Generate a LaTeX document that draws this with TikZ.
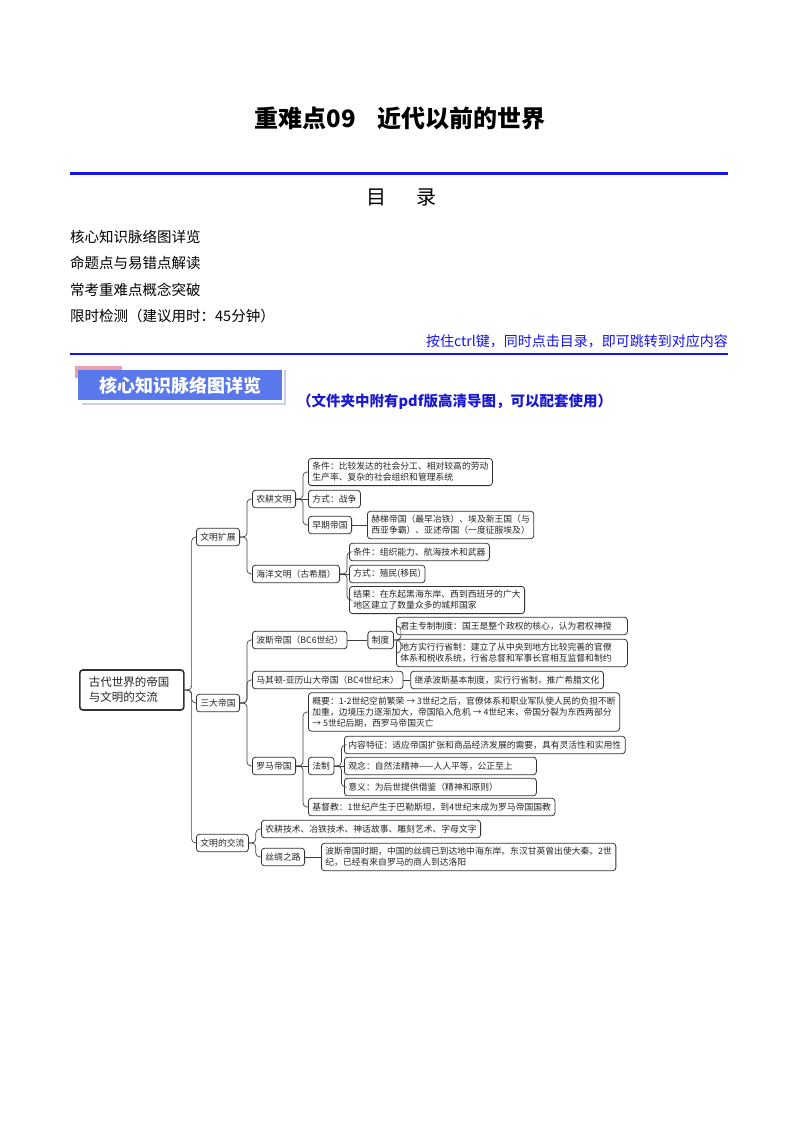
\documentclass[tikz,border=0pt]{standalone}
\usepackage{fontspec}
\setmainfont{Noto Sans CJK SC}
\usepackage{tikz}
\usetikzlibrary{positioning}
\definecolor{ruleblue}{RGB}{20,20,235}
\definecolor{bannerblue}{RGB}{88,120,236}
\definecolor{bannerpink}{RGB}{232,160,172}
\definecolor{bannerline}{RGB}{200,208,238}
\definecolor{noteblue}{RGB}{25,25,210}
\newcommand{\mapfont}{\fontsize{8.8}{11}\selectfont}
\newcommand{\rootfont}{\fontsize{11.5}{15}\selectfont}
\newcommand{\branch}[2]{\draw[link] (#1.east) -- ++(7,0) |- (#2.west);}

\begin{document}
\begin{tikzpicture}[x=1pt, y=-1pt,
    mapbox/.style={draw=black!80, line width=0.8pt, rounded corners=3pt, inner xsep=4pt, inner ysep=4pt, minimum height=17.5pt, align=left, font=\mapfont, text=black!85, anchor=west},
    rootbox/.style={mapbox, line width=1.6pt, text width=86pt, inner xsep=9pt, minimum height=40pt, font=\rootfont},
    link/.style={draw=black!75, line width=0.7pt, rounded corners=4pt},
    tocitem/.style={anchor=west, inner sep=0pt, font=\fontsize{14.5}{16}\selectfont}]
    \fill[white] (0,0) rectangle (800,1132);

    \node[font=\bfseries\fontsize{24}{28}\selectfont] (title) at (400,118) {重难点09\hspace{0.9em}近代以前的世界};
    \draw[ruleblue, line width=3pt] (70,173) -- (728,173);
    \node[font=\fontsize{20}{24}\selectfont] (toc) at (401,197) {目\hspace{30pt}录};
    \node[tocitem] (toc1) at (70,237) {核心知识脉络图详览};
    \node[tocitem] (toc2) at (70,263) {命题点与易错点解读};
    \node[tocitem] (toc3) at (70,290) {常考重难点概念突破};
    \node[tocitem] (toc4) at (70,316) {限时检测（建议用时：45分钟）};
    \node[anchor=east, inner sep=0pt, text=ruleblue, font=\fontsize{14}{16}\selectfont] (hint) at (728,341) {按住ctrl键，同时点击目录，即可跳转到对应内容};
    \draw[ruleblue, line width=2pt] (70,354) -- (728,354);

    \fill[bannerpink] (75,366) rectangle (122,378);
    \draw[bannerline, line width=1.2pt] (82,404) -- (285,404) -- (285,370);
    \node[fill=bannerblue, minimum width=204pt, minimum height=30pt, inner sep=0pt, anchor=north west, text=white, font=\bfseries\fontsize{18}{20}\selectfont] (banner) at (78,370) {核心知识脉络图详览};
    \node[anchor=west, inner sep=0pt, text=noteblue, font=\bfseries\fontsize{14.5}{16}\selectfont] (note) at (297,402) {（文件夹中附有pdf版高清导图，可以配套使用）};

    \node[rootbox] (root) at (79,690) {古代世界的帝国\\与文明的交流};

    \node[mapbox] (expand) at (196,537) {文明扩展};
    \node[mapbox] (empires) at (196,703) {三大帝国};
    \node[mapbox] (exchange) at (196,843) {文明的交流};

    \node[mapbox] (farm) at (252,499) {农耕文明};
    \node[mapbox] (sea) at (252,574) {海洋文明（古希腊）};

    \node[mapbox] (farmcond) at (308,472) {条件：比较发达的社会分工、相对较高的劳动\\生产率、复杂的社会组织和管理系统};
    \node[mapbox] (farmway) at (308,499) {方式：战争};
    \node[mapbox] (early) at (308,525) {早期帝国};
    \node[mapbox, right=15pt of early] (earlylist) {赫梯帝国（最早冶铁）、埃及新王国（与\\西亚争霸）、亚述帝国（一度征服埃及）};

    \node[mapbox] (seacond) at (349,552) {条件：组织能力、航海技术和武器};
    \node[mapbox] (seaway) at (349,574) {方式：殖民(移民)};
    \node[mapbox] (searesult) at (349,600) {结果：在东起黑海东岸、西到西班牙的广大\\地区建立了数量众多的城邦国家};

    \node[mapbox] (persia) at (252,640) {波斯帝国（BC6世纪）};
    \node[mapbox, right=20pt of persia] (system) {制度};
    \node[mapbox, text width=223pt] (monarch) at (396,626) {君主专制制度：国王是整个政权的核心，认为君权神授};
    \node[mapbox, text width=223pt] (province) at (396,653) {地方实行行省制：建立了从中央到地方比较完善的官僚\\体系和税收系统，行省总督和军事长官相互监督和制约};
    \node[mapbox] (macedon) at (252,680) {马其顿-亚历山大帝国（BC4世纪末）};
    \node[mapbox, right=7pt of macedon] (macedonrule) {继承波斯基本制度，实行行省制，推广希腊文化};

    \node[mapbox] (rome) at (252,766) {罗马帝国};
    \node[mapbox] (romesum) at (308,712) {概要：1-2世纪空前繁荣 → 3世纪之后，官僚体系和职业军队使人民的负担不断\\加重，边境压力逐渐加大，帝国陷入危机 → 4世纪末，帝国分裂为东西两部分\\→ 5世纪后期，西罗马帝国灭亡};
    \node[mapbox] (law) at (308,766) {法制};
    \node[mapbox] (christ) at (308,807) {基督教：1世纪产生于巴勒斯坦，到4世纪末成为罗马帝国国教};
    \node[mapbox] (lawfeat) at (344,745) {内容特征：适应帝国扩张和商品经济发展的需要，具有灵活性和实用性};
    \node[mapbox, text width=184pt] (lawidea) at (344,766) {观念：自然法精神——人人平等，公正至上};
    \node[mapbox, text width=184pt] (lawmean) at (344,787) {意义：为后世提供借鉴（精神和原则）};

    \node[mapbox] (skills) at (261,829) {农耕技术、冶铁技术、神话故事、雕刻艺术、字母文字};
    \node[mapbox] (silk) at (261,857) {丝绸之路};
    \node[mapbox, right=16pt of silk] (silknote) {波斯帝国时期，中国的丝绸已到达地中海东岸。东汉甘英曾出使大秦。2世\\纪，已经有来自罗马的商人到达洛阳};

    \branch{root}{expand}
    \branch{root}{empires}
    \branch{root}{exchange}
    \branch{expand}{farm}
    \branch{expand}{sea}
    \branch{farm}{farmcond}
    \draw[link] (farm) -- (farmway);
    \branch{farm}{early}
    \draw[link] (early) -- (earlylist);
    \branch{sea}{seacond}
    \draw[link] (sea) -- (seaway);
    \branch{sea}{searesult}
    \branch{empires}{persia}
    \branch{empires}{macedon}
    \branch{empires}{rome}
    \draw[link] (persia) -- (system);
    \branch{system}{monarch}
    \branch{system}{province}
    \draw[link] (macedon) -- (macedonrule);
    \branch{rome}{romesum}
    \draw[link] (rome) -- (law);
    \branch{rome}{christ}
    \branch{law}{lawfeat}
    \draw[link] (law) -- (lawidea);
    \branch{law}{lawmean}
    \branch{exchange}{skills}
    \branch{exchange}{silk}
    \draw[link] (silk) -- (silknote);
\end{tikzpicture}
\end{document}
